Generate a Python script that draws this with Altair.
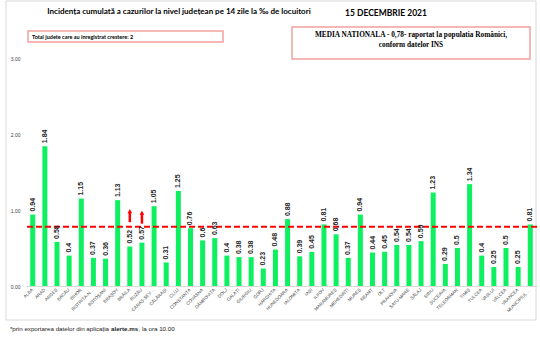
import altair as alt
import pandas as pd

counties = ["ALBA", "ARAD", "ARGEȘ", "BACĂU", "BIHOR", "BISTRIȚA-NĂSĂUD", "BOTOȘANI",
            "BRAȘOV", "BRĂILA", "BUZĂU", "CARAȘ-SEVERIN", "CĂLĂRAȘI", "CLUJ", "CONSTANȚA",
            "COVASNA", "DÂMBOVIȚA", "DOLJ", "GALAȚI", "GIURGIU", "GORJ", "HARGHITA",
            "HUNEDOARA", "IALOMIȚA", "IAȘI", "ILFOV", "MARAMUREȘ", "MEHEDINȚI", "MUREȘ",
            "NEAMȚ", "OLT", "PRAHOVA", "SATU-MARE", "SĂLAJ", "SIBIU", "SUCEAVA",
            "TELEORMAN", "TIMIȘ", "TULCEA", "VASLUI", "VÂLCEA", "VRANCEA",
            "MUNICIPIUL BUCUREȘTI"]
values = [0.94, 1.84, 0.58, 0.4, 1.15, 0.37, 0.36, 1.13, 0.52, 0.57, 1.05, 0.31, 1.25,
          0.76, 0.6, 0.63, 0.4, 0.38, 0.38, 0.23, 0.48, 0.88, 0.39, 0.45, 0.81, 0.68,
          0.37, 0.94, 0.44, 0.45, 0.54, 0.54, 0.59, 1.23, 0.29, 0.5, 1.34, 0.4, 0.25,
          0.5, 0.25, 0.81]
national_avg = 0.78
growth_counties = ["BRĂILA", "BUZĂU"]
y_ticks = [0, 0.5, 1.0, 1.5, 2.0, 2.5, 3.0]

title_text = "Incidența cumulată a cazurilor la nivel județean pe 14 zile la ‰ de locuitori"
date_text = "15 DECEMBRIE 2021"
box1_text = "Total judete care au inregistrat crestere: 2"
box2_lines = ["MEDIA NATIONALA - 0,78-  raportat la populatia Românici,", "conform datelor INS"]
foot_parts = ["*prin exportarea datelor din aplicația", "alerte.ms", ", la ora 10.00"]

df = pd.DataFrame({"county": counties, "value": values})
arrows = pd.DataFrame({"county": growth_counties, "y0": [0.84, 0.82], "y1": [0.97, 0.95],
                       "tip": [0.985, 0.965]})

W, H = 511, 228
L, T = 26, 58

xscale = alt.Scale(domain=counties, paddingInner=0.59, paddingOuter=0.35)
xenc = alt.X("county:N", sort=counties, scale=xscale,
             axis=alt.Axis(title=None, labelAngle=-45, labelAlign="right", labelBaseline="middle",
                           labelFontSize=4.5, labelColor="#404040", labelFont="Liberation Sans",
                           ticks=False, domainColor="#d9d9d9", labelPadding=3, labelLimit=32))
xplain = alt.X("county:N", sort=counties, scale=xscale)
yenc = alt.Y("value:Q", scale=alt.Scale(domain=[0, 3]),
             axis=alt.Axis(title=None, values=y_ticks, format=".2f", labelFontSize=5,
                           labelColor="#404040", labelFont="Liberation Sans", grid=False,
                           domain=False, ticks=False, labelPadding=6))

base = alt.Chart(df)
bars = base.mark_bar(color="#0df060", size=5).encode(x=xenc, y=yenc)
labels = base.mark_text(angle=270, align="left", baseline="middle", dx=3, fontSize=7,
                        fontWeight="bold", font="Liberation Sans", color="#262626").encode(
    x=xplain, y="value:Q", text="value:Q")
avg = alt.Chart(pd.DataFrame({"v": [national_avg]})).mark_rule(
    color="#ff0000", strokeWidth=2, strokeDash=[6, 3]).encode(y="v:Q")
shaft = alt.Chart(arrows).mark_rule(color="#ff0000", strokeWidth=2.5).encode(
    x=xplain, y="y0:Q", y2="y1:Q")
head = alt.Chart(arrows).mark_point(shape="triangle-up", filled=True, color="#ff0000",
                                    size=22, opacity=1).encode(x=xplain, y="tip:Q")

def px(x):
    return alt.value(x - L)

def py(y):
    return alt.value(y - T)

one = pd.DataFrame({"a": [0]})

def text(t, x, y, size, weight="normal", font="Liberation Sans", align="left", color="#000000"):
    return alt.Chart(one).mark_text(text=t, fontSize=size, fontWeight=weight, font=font,
                                    align=align, baseline="middle", color=color).encode(
        x=px(x), y=py(y))

def box(x1, y1, x2, y2, stroke, sw):
    return alt.Chart(one).mark_rect(fill=None, stroke=stroke, strokeWidth=sw).encode(
        x=px(x1), x2=px(x2), y=py(y1), y2=py(y2))

frame = box(6, 1, 536, 320, "#d9d9d9", 1)
title = text(title_text, 179, 12, 8, "bold", "Lato", "center", "#000000")
date = text(date_text, 386, 13, 8.5, "bold", "Lato", "center")
b1 = box(28, 31, 223, 42, "#f4a0a0", 1.5)
t1 = text(box1_text, 32, 36.5, 5.5, "bold", "Lato")
b2 = box(292, 27, 530, 59, "#f4a0a0", 1.5)
t2a = text(box2_lines[0], 411, 35, 7.3, "bold", "Liberation Serif", "center")
t2b = text(box2_lines[1], 411, 45, 7.3, "bold", "Liberation Serif", "center")
f1 = text(foot_parts[0], 109, 329, 6.2, "normal", "Liberation Sans", "right", "#222222")
f2 = text(foot_parts[1], 111, 329, 6.2, "bold", "Liberation Sans", "left", "#222222")
f3 = text(foot_parts[2], 138.5, 329, 6.2, "normal", "Liberation Sans", "left", "#222222")

chart = alt.layer(frame, bars, avg, labels, shaft, head, title, date, b1, t1, b2, t2a, t2b,
                  f1, f2, f3).properties(
    width=W, height=H, autosize=alt.AutoSizeParams(type="none"),
    padding={"left": L, "top": T, "right": 540 - L - W, "bottom": 337 - T - H},
    background="#ffffff"
).configure_view(stroke=None)

chart.save("out.html", embed_options={"renderer": "svg", "actions": False})
